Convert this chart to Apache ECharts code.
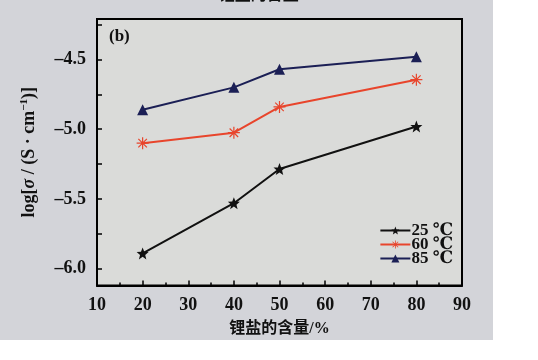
<!DOCTYPE html>
<html><head><meta charset="utf-8">
<script src="https://cdn.jsdelivr.net/npm/echarts@6/dist/echarts.min.js"></script>
<style>
html,body{margin:0;padding:0;background:#fff;}
#wrap{position:relative;width:538px;height:360px;background:#fff;}
#bg{position:absolute;left:0;top:0;width:493px;height:340px;background:#d3d4d9;}
#chart{position:absolute;left:0;top:0;width:538px;height:360px;}
</style></head>
<body><div id="wrap"><div id="bg"></div><div id="chart"></div></div>
<script>
const saltContent = [20, 40, 50, 80];
const s25 = [-5.89, -5.53, -5.285, -4.98];
const s60 = [-5.10, -5.025, -4.84, -4.645];
const s85 = [-4.86, -4.70, -4.57, -4.48];
const seriesNames = ['25 ℃', '60 ℃', '85 ℃'];
const yLabels = [-6.0, -5.5, -5.0, -4.5];
const yTicks = [-6.0, -5.75, -5.5, -5.25, -5.0, -4.75, -4.5, -4.25];
const xAxisTitle = '锂盐的含量/%';
const panelLabel = '(b)';

const serif = '"Liberation Serif","DejaVu Serif",serif';
const cjk = '"Liberation Serif","Noto Sans CJK SC",serif';
const starPath = 'path://M0,-10 L2.6,-3.3 L9.5,-3.1 L4.1,1.3 L5.9,8.1 L0,4.2 L-5.9,8.1 L-4.1,1.3 L-9.5,-3.1 L-2.6,-3.3 Z';
const asteriskPath = 'path://M-1,-10 L1,-10 L1,-2.4 L6.4,-7.8 L7.8,-6.4 L2.4,-1 L10,-1 L10,1 L2.4,1 L7.8,6.4 L6.4,7.8 L1,2.4 L1,10 L-1,10 L-1,2.4 L-6.4,7.8 L-7.8,6.4 L-2.4,1 L-10,1 L-10,-1 L-2.4,-1 L-7.8,-6.4 L-6.4,-7.8 L-1,-2.4 Z';

function mk(name, vals, color, symbol, size) {
  return {
    name: name, type: 'line',
    data: saltContent.map((x, i) => [x, vals[i]]),
    symbol: symbol, symbolSize: size,
    lineStyle: {color: color, width: 2},
    itemStyle: {color: color},
    z: 3
  };
}

const chart = echarts.init(document.getElementById('chart'), null, {renderer: 'canvas'});
chart.setOption({
  backgroundColor: 'transparent',
  animation: false,
  grid: {left: 97, right: 76, top: 19, bottom: 74.5, show: true, backgroundColor: '#dadbd9', borderColor: '#000', borderWidth: 2},
  xAxis: {
    type: 'value', min: 10, max: 90, interval: 10,
    name: xAxisTitle, nameLocation: 'middle', nameGap: 35,
    nameTextStyle: {fontFamily: cjk, fontWeight: 'bold', fontSize: 16, color: '#111'},
    axisLine: {lineStyle: {color: '#000', width: 2}},
    axisTick: {inside: true, length: 5, lineStyle: {color: '#000', width: 1.5}},
    minorTick: {show: true, splitNumber: 2, length: 3, lineStyle: {color: '#000', width: 1.5}},
    splitLine: {show: false},
    axisLabel: {margin: 11, fontFamily: serif, fontWeight: 'bold', fontSize: 18, color: '#111'}
  },
  yAxis: {
    type: 'value', min: -6.12, max: -4.21,
    name: 'log[{i|σ} / (S · cm{sup|−1})]', nameLocation: 'middle', nameGap: 58, nameRotate: 90,
    nameTextStyle: {fontFamily: serif, fontWeight: 'bold', fontSize: 18, color: '#111',
      rich: {i: {fontFamily: serif, fontStyle: 'italic', fontWeight: 'bold', fontSize: 18, color: '#111'},
             sup: {fontFamily: serif, fontWeight: 'bold', fontSize: 11, color: '#111', verticalAlign: 'top', padding: [0,0,9,0]}}},
    axisLine: {show: true, lineStyle: {color: '#000', width: 2}},
    axisTick: {show: true, inside: true, length: 5, customValues: yTicks, lineStyle: {color: '#000', width: 1.5}},
    splitLine: {show: false},
    axisLabel: {customValues: yLabels, margin: 11, fontFamily: serif, fontWeight: 'bold', fontSize: 18, color: '#111',
      formatter: v => '–' + Math.abs(v).toFixed(1)}
  },
  legend: {
    orient: 'vertical', right: 80, top: 217, itemWidth: 30, itemHeight: 10, itemGap: -3,
    data: seriesNames,
    textStyle: {fontFamily: serif, fontWeight: 'bold', fontSize: 17, color: '#111', padding: [0,0,0,-4]}
  },
  graphic: [
    {type: 'text', left: 'center', top: -12, style: {text: xAxisTitle, font: 'bold 16px ' + cjk, fill: '#111'}},
    {type: 'text', left: 109, top: 28, style: {text: panelLabel, font: 'bold 17px ' + serif, fill: '#111'}}
  ],
  series: [
    mk(seriesNames[0], s25, '#111111', starPath, 12),
    mk(seriesNames[1], s60, '#e8452c', asteriskPath, 12),
    mk(seriesNames[2], s85, '#1b1f55', 'triangle', 11)
  ]
});
</script></body></html>
